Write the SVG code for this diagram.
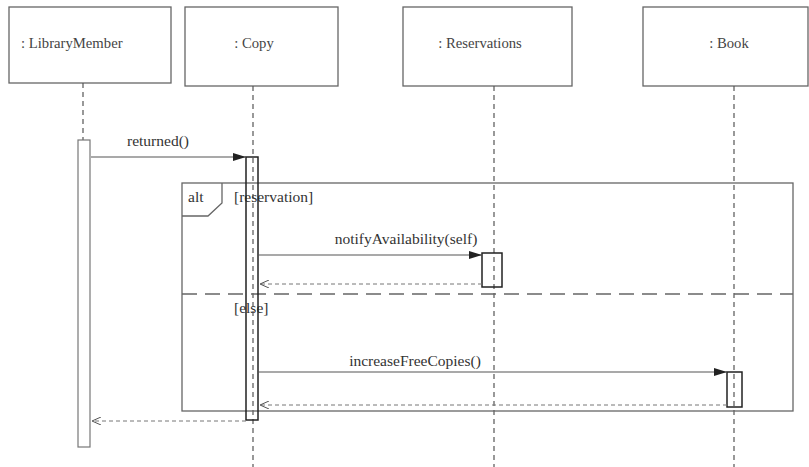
<svg xmlns="http://www.w3.org/2000/svg" width="809" height="467" viewBox="0 0 809 467" font-family="'Liberation Serif', 'DejaVu Serif', serif">
<style>
.box{fill:#fff;stroke:#666;stroke-width:1.3}
.life{stroke:#555;stroke-width:1.2;stroke-dasharray:5 4;fill:none}
.act{stroke:#222;stroke-width:1.5}
.act0{fill:#fff;stroke:#777;stroke-width:1.2}
.msg{stroke:#555;stroke-width:1.2;fill:none}
.ret{stroke:#777;stroke-width:1;stroke-dasharray:4 3;fill:none}
.frame{fill:none;stroke:#666;stroke-width:1.3}
.sep{stroke:#666;stroke-width:1.5;stroke-dasharray:15 8;fill:none}
.t{font-family:'Liberation Serif','DejaVu Serif',serif;font-size:15.5px;fill:#333}
.h{font-family:'Liberation Serif','DejaVu Serif',serif;font-size:14.7px;fill:#444}
</style>
<defs>
<marker id="filled" markerWidth="14" markerHeight="8" refX="13" refY="4" orient="auto" markerUnits="userSpaceOnUse">
<path d="M0,0 L13,4 L0,8 z" fill="#222"/>
</marker>
<marker id="open" markerWidth="10" markerHeight="8" refX="9" refY="4" orient="auto" markerUnits="userSpaceOnUse">
<path d="M0,0 L9,4 L0,8" fill="none" stroke="#555" stroke-width="1"/>
</marker>
</defs>
<rect width="809" height="467" fill="#fff"/>
<g id="node-librarymember">
<rect class="box" x="9" y="7" width="162" height="76"/>
<text class="h" x="21" y="48">: LibraryMember</text>
<line class="life" x1="83" y1="83" x2="83" y2="140"/>
<rect class="act0" x="78" y="140" width="12" height="307"/>
</g>
<g id="node-copy">
<rect class="box" x="185" y="7" width="153" height="79"/>
<text class="h" x="254" y="48" text-anchor="middle">: Copy</text>
<line class="life" x1="253" y1="86" x2="253" y2="467"/>
</g>
<g id="node-reservations">
<rect class="box" x="403" y="7" width="169" height="79"/>
<text class="h" x="480" y="48" text-anchor="middle">: Reservations</text>
<line class="life" x1="494" y1="86" x2="494" y2="467"/>
</g>
<g id="node-book">
<rect class="box" x="643" y="7" width="165" height="79"/>
<text class="h" x="729" y="48" text-anchor="middle">: Book</text>
<line class="life" x1="734" y1="86" x2="734" y2="467"/>
</g>
<g id="frame-alt">
<rect class="frame" x="182" y="183" width="611" height="228"/>
<path class="frame" d="M182,216 L208,216 L222,203 L222,183"/>
<text class="t" x="188" y="202">alt</text>
<text class="t" x="234" y="202">[reservation]</text>
<line class="sep" x1="182" y1="294" x2="793" y2="294"/>
<text class="t" x="234" y="313">[else]</text>
</g>
<g id="activations">
<rect class="act" x="246" y="157" width="12" height="263" fill="none"/>
<rect class="act" x="482" y="253" width="20" height="34" fill="none"/>
<rect class="act" x="727" y="372" width="15" height="35" fill="none"/>
</g>
<g id="connectors">
<line class="msg" x1="91" y1="157" x2="246" y2="157" marker-end="url(#filled)"/>
<text class="t" x="127" y="146">returned()</text>
<line class="msg" x1="258" y1="255" x2="482" y2="255" marker-end="url(#filled)"/>
<text class="t" x="406" y="244" text-anchor="middle">notifyAvailability(self)</text>
<line class="ret" x1="482" y1="284" x2="260" y2="284" marker-end="url(#open)"/>
<line class="msg" x1="258" y1="372" x2="727" y2="372" marker-end="url(#filled)"/>
<text class="t" x="415" y="366" text-anchor="middle">increaseFreeCopies()</text>
<line class="ret" x1="727" y1="405" x2="260" y2="405" marker-end="url(#open)"/>
<line class="ret" x1="246" y1="421" x2="92" y2="421" marker-end="url(#open)"/>
</g>
</svg>
